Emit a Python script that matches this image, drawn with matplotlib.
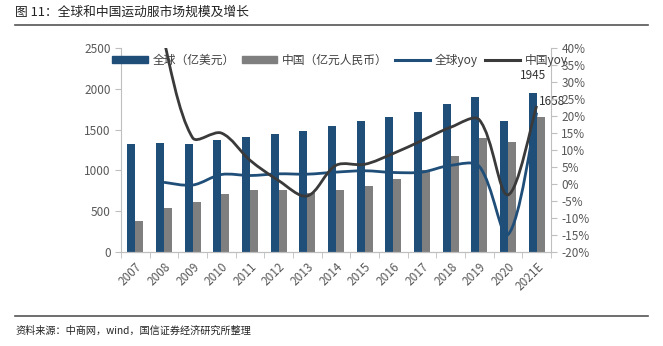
import numpy as np
import matplotlib
matplotlib.use("Agg")
import matplotlib.pyplot as plt
from matplotlib.path import Path
from matplotlib.patches import PathPatch, Patch
from matplotlib.lines import Line2D
from matplotlib.ticker import FixedLocator

plt.rcParams['font.family'] = ['Noto Sans CJK SC', 'DejaVu Sans']

years = ["2007", "2008", "2009", "2010", "2011", "2012", "2013", "2014",
         "2015", "2016", "2017", "2018", "2019", "2020", "2021E"]
global_size = [1330, 1335, 1328, 1370, 1405, 1445, 1485, 1540,
               1600, 1660, 1720, 1810, 1900, 1610, 1945]
china_size = [380, 540, 615, 710, 755, 755, 725, 765,
              810, 890, 1000, 1175, 1400, 1350, 1658]
# yoy in %, first year has no value
global_yoy = [None, 0.5, -0.3, 2.8, 2.5, 3.0, 2.9, 3.5,
              3.9, 3.4, 3.5, 5.5, 5.2, -14.9, 21.0]
china_yoy = [None, 42.0, 13.6, 15.0, 7.0, 1.0, -3.5, 5.5,
             5.8, 9.0, 12.8, 16.7, 18.9, -3.2, 23.0]

BLUE = "#1F4E79"
GRAY = "#7F7F7F"
DARK = "#3A3A3A"
TICK = "#595959"


def smooth_path(xs, ys, sx, sy):
    # Excel-like smoothed line: cubic bezier through every point,
    # tangents scaled by segment lengths measured in pixels
    pts = np.column_stack([xs, ys]).astype(float)
    scale = np.array([sx, sy])
    n = len(pts)

    def dist(a, b):
        return np.hypot(*((b - a) * scale))

    verts = [pts[0]]
    codes = [Path.MOVETO]
    for i in range(n - 1):
        p0 = pts[i - 1] if i > 0 else pts[i]
        p1 = pts[i]
        p2 = pts[i + 1]
        p3 = pts[i + 2] if i + 2 < n else pts[i + 1]
        d01, d12, d23 = dist(p0, p1), dist(p1, p2), dist(p2, p3)
        k1 = d12 / (d01 + d12) / 3.0 if d01 > 0 else 1 / 6.0
        k2 = d12 / (d12 + d23) / 3.0 if d23 > 0 else 1 / 6.0
        c1 = p1 + (p2 - p0) * k1
        c2 = p2 - (p3 - p1) * k2
        verts += [c1, c2, p2]
        codes += [Path.CURVE4] * 3
    return Path(verts, codes)


fig = plt.figure(figsize=(6.63, 3.46), dpi=100)
ax = fig.add_axes([0.1825, 0.2717, 0.6485, 0.5893])
ax2 = ax.twinx()

x = np.arange(len(years))
w = 0.28
ax.bar(x - w / 2, global_size, width=w, color=BLUE, zorder=2)
ax.bar(x + w / 2, china_size, width=w, color=GRAY, zorder=2)
ax.set_ylim(0, 2500)
ax.set_xlim(-0.5, len(years) - 0.5)
ax.set_yticks(range(0, 2501, 500))

ax2.set_ylim(-20, 40)
ax2.set_yticks(range(-20, 41, 5))
ax2.set_yticklabels([f"{v}%" for v in range(-20, 41, 5)])

# pixels per data unit on the yoy axes
bbox = ax2.get_window_extent()
sx = bbox.width / len(years)
sy = bbox.height / 60.0

for vals, col in [(global_yoy, BLUE), (china_yoy, DARK)]:
    xs = [i for i, v in enumerate(vals) if v is not None]
    ys = [v for v in vals if v is not None]
    ax2.add_patch(PathPatch(smooth_path(xs, ys, sx, sy), fill=False,
                            edgecolor=col, lw=2.0, zorder=3))

ax.annotate(f"{global_size[-1]}", (x[-1] - w / 2, global_size[-1]),
            xytext=(0, 8), textcoords="offset points", ha="center",
            va="bottom", fontsize=8.5, color="#333333")
ax.annotate(f"{china_size[-1]}", (x[-1] + w / 2, china_size[-1]),
            xytext=(-1, 6), textcoords="offset points", ha="left",
            va="bottom", fontsize=8.5, color="#333333")

ax.set_xticks(x)
ax.set_xticklabels(years, rotation=45, ha="right", rotation_mode="anchor")
ax.xaxis.set_minor_locator(FixedLocator(np.arange(-0.5, len(years), 1)))
ax.tick_params(axis="x", which="major", length=0, pad=6, labelsize=8.5,
               colors=TICK)
ax.tick_params(axis="x", which="minor", length=4, color="#BFBFBF")
ax.tick_params(axis="y", length=4, color="#BFBFBF", labelsize=8.5,
               labelcolor=TICK)
ax2.tick_params(axis="y", length=4, color="#BFBFBF", labelsize=8.5,
                labelcolor=TICK)

for a in (ax, ax2):
    a.spines["top"].set_visible(False)
    for s in ("left", "right", "bottom"):
        a.spines[s].set_color("#BFBFBF")
ax.spines["right"].set_visible(False)
ax2.spines["left"].set_visible(False)
ax2.set_zorder(ax.get_zorder() + 1)
ax2.patch.set_visible(False)

handles = [Patch(color=BLUE), Patch(color=GRAY),
           Line2D([], [], color=BLUE, lw=2.2), Line2D([], [], color=DARK, lw=2.2)]
labels = ["全球（亿美元）", "中国（亿元人民币）", "全球yoy", "中国yoy"]
ax2.legend(handles, labels, loc="center left", bbox_to_anchor=(-0.045, 0.94),
           ncol=4, frameon=False, fontsize=8.5, handlelength=3.0,
           handleheight=0.5, columnspacing=0.6, handletextpad=0.4,
           labelcolor="#404040")

fig.text(0.023, 0.965, "图 11：全球和中国运动服市场规模及增长", fontsize=9.2,
         color="#222222", va="center")
fig.add_artist(Line2D([0.023, 0.977], [0.928, 0.928], color="#555555", lw=1.2))
fig.add_artist(Line2D([0.023, 0.977], [0.088, 0.088], color="#555555", lw=1.2))
fig.text(0.023, 0.045, "资料来源：中商网，wind，国信证券经济研究所整理", fontsize=7.3,
         color="#222222", va="center")

fig.savefig("out.png", dpi=100)
